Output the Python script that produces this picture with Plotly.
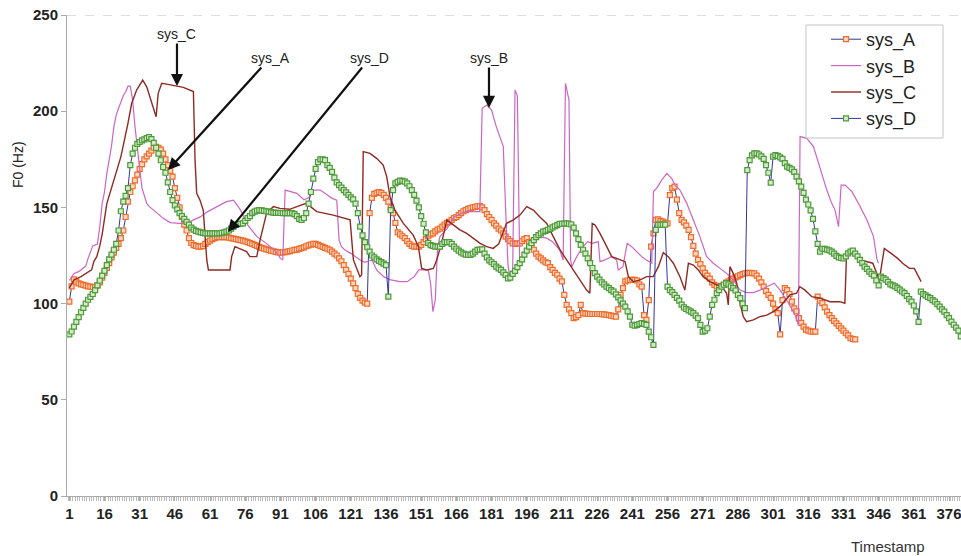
import plotly.graph_objects as go

# ---------------- data ----------------
sys_A = [
    101, 109, 112.6, 111.4, 110.5, 110, 109.7, 109.3, 109, 108.8,
    108.6, 108.5, 109.5, 111, 113.5, 116, 118.5, 121, 124, 126.5,
    129, 131, 134, 138, 145, 153, 158, 161, 164, 167,
    170, 172.5, 175, 176.5, 178, 179.5, 181, 181.5, 181, 180,
    178, 175, 172, 169, 166, 160, 155, 150, 145, 141,
    138, 134, 131.5, 130.4, 130, 129.6, 129.6, 130, 131, 132,
    132.7, 133.5, 134, 134.5, 134.5, 134.5, 134.5, 134.5, 134.3, 134,
    133.8, 133.5, 133.2, 133, 132.7, 132.3, 132, 131.5, 131, 130.5,
    130, 129.5, 129, 128.6, 128.2, 127.8, 127.5, 127.2, 126.9, 126.6,
    126.5, 126.6, 126.8, 127, 127.3, 127.6, 127.9, 128.1, 128.4, 128.8,
    129.2, 129.8, 130.3, 130.7, 131, 131, 130.5, 130, 129.5, 129,
    128.5, 128, 127, 126, 125, 123.5, 122, 120, 117.5, 115.5,
    113, 110.5, 108, 105, 103, 101.5, 100.5, 100, 147, 155,
    157, 157.5, 158, 157.5, 156.5, 155, 153, 150, 147, 142,
    137, 136, 135, 134, 132.5, 131, 130, 129.6, 129.6, 129.6,
    130.5, 132, 133.5, 135, 136, 136.5, 137.5, 138.5, 139, 140,
    141, 142, 142.5, 143.5, 144.5, 145, 146, 147, 148, 148.6,
    149.2, 149.7, 150, 150.3, 150.6, 150.7, 150, 148.6, 146.5, 145,
    143.5, 141.7, 140.5, 139, 138, 136.5, 134.8, 133.5, 132.5, 131.3,
    131, 131.3, 131.3, 132.5, 133.5, 134, 132, 130, 128, 126,
    124.4, 123.5, 122.5, 121.5, 121, 119, 117.5, 116, 115, 113,
    111.5, 104.5, 99.3, 97, 95, 92.4, 93, 94, 99.3, 95,
    94.8, 94.7, 94.6, 94.6, 94.6, 94.6, 94.6, 94.5, 94.4, 94.2,
    94, 93.8, 93.5, 93.2, 97, 104.5, 108, 111.5, 112, 112.3,
    112.3, 112.3, 112, 110, 108.8, 94, 91.5, 101.8, 129.6, 136.5,
    143.5, 143.8, 143, 142.6, 142, 141.7, 156.4, 160, 160.8, 154,
    147, 143.5, 142.2, 140.5, 138.3, 134.5, 130, 126, 122.7, 120.5,
    118.3, 116, 114.5, 113, 111, 109.7, 109, 108.8, 109.2, 109.8,
    110.9, 111.6, 112.3, 113, 113.6, 114.2, 114.8, 115.3, 115.7, 116,
    116, 115.8, 115.7, 114.5, 113, 111, 108.8, 106.5, 104.5, 103,
    100, 97, 95, 84, 101.8, 108, 107, 105, 101, 97.5,
    96, 92.4, 90, 88, 86.5, 86, 85.5, 85.4, 85.4, 103.6,
    101.5, 100.2, 98, 95.8, 94, 92.4, 91, 89.7, 88.4, 87.1,
    86, 84.6, 83.5, 82, 81.6, 81.4,
]

sys_D = [
    84, 85.5, 88, 90.5, 93, 95.5, 97.8, 100, 102, 103.5,
    105, 107, 109.5, 112, 114.5, 117, 120, 123, 125.5, 128,
    131, 138, 148, 153, 156, 160, 172, 178, 181, 183,
    184, 184.8, 185.4, 186, 186.5, 185.5, 183.5, 181, 178, 174.5,
    171, 168, 163, 158, 153.8, 151, 149, 147, 145.5, 144,
    142.5, 141, 139.5, 138.5, 137.8, 137.4, 137, 136.8, 136.5, 136.5,
    136.5, 136.5, 136.5, 136.5, 136.5, 136.8, 137, 137.4, 138, 139,
    140, 140.9, 141.3, 141.5, 141.7, 143, 144.5, 145.5, 147, 147.8,
    148.3, 148.6, 148.5, 148.2, 148, 147.8, 147.5, 147.3, 147.2, 147.2,
    147.1, 147, 147, 147, 147, 147, 146.5, 145.5, 144, 143.5,
    144.5, 147, 152, 158, 165, 170, 173.5, 175, 175, 174.6,
    172, 170.5, 168.5, 165.5, 163, 161.6, 160.3, 159, 157.8, 156.5,
    155.2, 154.2, 152, 147, 140, 135.5, 132, 129.3, 127, 125,
    124, 123, 122.2, 121.6, 120.8, 120, 103.6, 148.6, 159, 162.5,
    163.3, 163.9, 163.8, 163.4, 162.5, 161, 159, 156.5, 153.5, 150,
    145.5, 141.5, 137, 131.5, 130.4, 130, 129.6, 129.6, 129.6, 131,
    132, 132, 132, 131, 129.6, 128.5, 127.5, 126.6, 126, 125.5,
    125.3, 125.3, 126, 127, 127.9, 128.1, 128.2, 126, 124, 122.5,
    121.5, 120.5, 119.2, 118.3, 117.5, 116.2, 114.9, 113.1, 113.5, 115.5,
    117, 119, 121, 123, 125.5, 127.5, 129.6, 131.5, 133, 134.5,
    135.6, 136.5, 137.4, 137.8, 138.3, 138.8, 139.6, 140.2, 140.8, 141.4,
    141.5, 141.6, 141.7, 141.5, 141.1, 139.5, 136.5, 133.5, 130.5, 128,
    126, 123.5, 121, 118.5, 115.8, 114, 112.5, 111, 110, 108.8,
    108, 107, 106.2, 104.8, 103.2, 101.7, 100, 98.4, 96, 93.2,
    89, 88.5, 88.9, 89.4, 89.8, 89.5, 88.9, 85.4, 82.5, 78.5,
    138.3, 140.9, 141, 141, 141, 108.8, 107, 106, 104.5, 103,
    101.5, 99.5, 98, 97.2, 96.5, 95.8, 95, 93.8, 92.4, 88.9,
    85.4, 86, 87.2, 93.2, 99.3, 102, 105.4, 107, 108.8, 109.8,
    110.6, 110, 109, 108, 106.8, 104.5, 102.8, 100, 97.6, 169.4,
    174.6, 177, 178.1, 178.1, 177.5, 176.5, 175.2, 172, 168, 162.9,
    176.4, 177.2, 176.8, 176, 175.2, 173, 171.2, 170.5, 169.8, 168.5,
    166, 163.5, 160.8, 157.5, 154, 151.5, 148.5, 144, 137.5, 131,
    127, 128.5, 128.4, 128.1, 127.7, 127, 126, 124.8, 124, 123.7,
    123.5, 124.5, 126.1, 127, 127.5, 126, 124.5, 122.7, 121, 119.2,
    118, 116.6, 115.5, 114.5, 112, 109.5, 114, 113.2, 112.5, 111.3,
    110, 109.5, 109, 108.2, 107.3, 106.3, 105.4, 104, 102.3, 101,
    99, 96, 90.5, 106.2, 105, 104.3, 103.5, 102.8, 101.8, 101,
    99.7, 98.4, 97, 95.8, 94, 92.4, 90.6, 89, 87.5, 86, 83,
]

# sys_B and sys_C: vertices (timestamp, F0)
sys_B_t = [1, 3, 5, 6, 8, 9, 10, 11, 13, 14, 15, 16, 17, 18, 19, 20, 21, 22, 23, 24,
           25, 26, 27, 28, 29, 30, 31, 32, 33, 34, 35, 37, 39, 41, 44, 48, 51, 54, 57, 60,
           64, 68, 71, 74, 77, 81, 85, 89, 91, 92, 93, 95, 98, 101, 103, 105, 108, 111, 113, 115,
           116, 117, 118.5, 121, 123, 125, 127, 130, 132, 135, 138, 142, 145, 148, 150, 154, 155, 156, 157, 158,
           159, 162, 165, 168, 170, 176, 177, 179, 181, 183, 185, 186, 187, 188, 189, 190, 191, 192, 193, 195,
           198, 201, 204.5, 207, 210, 211.5, 212.5, 214, 214.7, 215.2, 217.3, 220, 222, 224, 226.5, 227.2, 229.3, 232, 234.3, 235,
           237, 238.8, 240.7, 243, 245, 247, 249.3, 250, 251.4, 253.5, 255.7, 257.8, 259.2, 261.3, 264.2, 267, 269.8, 272.7, 275.5, 278.4,
           281.2, 284, 286.9, 289.7, 292.6, 295.4, 298.3, 301.5, 304, 307.6, 310.4, 311.8, 312.5, 315.4, 318.2, 321, 323.9, 326, 327.4, 328.9,
           330, 331.7, 334.6, 337.4, 341, 343.8, 345.2, 345.9]
sys_B_v = [112, 115.7, 116.6, 117.5, 119.5, 123.5, 127, 130, 131, 140, 152, 158, 167.7, 174, 182, 192, 198, 201.5, 205, 208,
           210, 213, 213, 205.8, 192, 180, 170, 160, 155.5, 152.1, 150.5, 148.6, 146.5, 144.3, 142.1, 141.7, 141.7, 143.5, 145.2, 147.8,
           150.4, 153, 153.8, 148.6, 140.9, 134.8, 131.3, 127, 123.5, 122.7, 159, 158.2, 157.3, 154, 155, 159, 159, 156.4, 154.7, 153.8,
           133, 129.6, 127.9, 126.1, 124.4, 122.7, 121.5, 122.7, 117.5, 114, 112.3, 111.4, 111.4, 114, 117.5, 117.5, 110.5, 95.8, 101.9, 129.6,
           134.8, 139, 145.2, 147, 147.8, 147.8, 201.5, 203.2, 200.6, 192, 185, 181.6, 148.6, 120, 112, 118, 211, 208, 120, 125,
           130, 134.8, 134, 132.2, 127.9, 122.7, 214.5, 205.8, 122.7, 119.2, 124.4, 129.6, 132.2, 131.3, 132.2, 121.8, 122.7, 124.4, 122.7, 117.5,
           119.2, 131.3, 129.6, 127, 124.4, 122.7, 121, 158.2, 160, 164.2, 167.7, 165, 161.6, 159, 152.1, 143.5, 134.8, 124.4, 121, 118.3,
           115.7, 112.3, 107, 105.7, 105.7, 107, 108.8, 110.6, 107, 100.2, 94, 88.9, 186.8, 185.9, 181.6, 170.3, 159, 152.1, 148.6, 140,
           161.6, 161.6, 158.2, 152.1, 143.5, 134.8, 123.5, 121]

sys_C_t = [1, 3, 6, 8, 10.5, 11.5, 12.7, 14, 15, 17, 20, 23, 26, 27.6, 29.7, 32.3, 34, 36.1, 38, 38.9,
           40.4, 42.5, 46, 49.6, 53.9, 54.6, 55.3, 56.7, 58.1, 59.6, 60.3, 69.5, 70.2, 71.6, 76.6, 78, 80.9, 82.3, 85.1, 88,
           90.8, 95, 98, 102, 106.5, 113.5, 120.7, 122.1, 124.9, 125.6, 126.3, 129.2, 132, 134.8, 136.3, 137.7, 139.8, 143.4, 147.6, 149.8,
           151.2, 153.3, 156.2, 157.6, 159.7, 161.9, 164.7, 167.5, 170.4, 173.2, 176.1, 178.9, 181.7, 184, 187.4, 190.3, 193.1, 196, 198.8, 201.6,
           204.5, 207.3, 210.2, 213, 215.8, 218.7, 221.5, 222.9, 223.9, 225.1, 227.2, 230.1, 232.2, 234.3, 236.4, 237.9, 239.3, 241.4, 244.3, 247.1,
           249.9, 252.1, 254.2, 256.3, 258.5, 261.3, 263.4, 264.9, 267, 269.1, 271.2, 274.1, 276.9, 279.1, 281.2, 281.9, 282.6, 284, 285.5, 286.9,
           288.3, 289.7, 292.6, 295.4, 298.3, 301.1, 303.9, 306.5, 308.2, 311, 312.4, 314.6, 317.5, 321, 325.3, 329.5, 331.6, 332.3, 335.2, 338.1,
           340.6, 343.5, 346.3, 348.4, 351.3, 354.1, 356.2, 359.1, 361.2, 364.1]
sys_C_v = [108, 112.3, 114, 115.7, 117.5, 122, 124.4, 130, 136, 152, 164.2, 176.4, 193.7, 204.1, 211, 216.2, 212.7, 204.1, 197.1, 209.3,
           214.5, 214.1, 213.1, 212.4, 210.2, 174.6, 157.3, 153.8, 148.6, 122.7, 117.5, 117.5, 124.4, 129.6, 127, 124.4, 124.4, 133, 147, 150.4,
           149.5, 149, 150.4, 152.1, 147.8, 146, 143.5, 122.7, 114, 114.9, 179, 178.1, 175.5, 172, 166, 155.6, 148.6, 141.7, 135.6, 129.6,
           118.3, 117.5, 118.3, 122.7, 131.3, 143.5, 140.9, 138.3, 136.5, 134, 131.3, 129.6, 128.7, 131, 141.7, 143.5, 146, 150.4, 148.6, 145,
           141.7, 134.8, 127.9, 122.7, 117.5, 112.3, 107, 105.4, 141.7, 140.9, 136.5, 129.6, 124.4, 123.5, 122.7, 121.8, 114, 111.4, 112.3, 114,
           114, 119.2, 126.5, 124.4, 121, 114, 107, 121, 120, 117.5, 114, 111.4, 109.7, 108.8, 105.4, 99.3, 119.2, 115.7, 110.6, 100.2,
           93.2, 90.6, 91.5, 93.2, 94, 95.8, 98.4, 102, 104.5, 105.4, 108.8, 107, 103.6, 102.8, 101, 101, 100.2, 125.3, 127.9, 122.7,
           121.8, 121, 112.3, 128.7, 126.1, 123.5, 121, 118.3, 118.3, 111.4]

tick_labels = [str(v) for v in range(1, 377, 15)]
y_ticks = [0, 50, 100, 150, 200, 250]

# ---------------- figure ----------------
FONT = "Liberation Sans, Arial, sans-serif"
BLUE = "#35369A"

fig = go.Figure()
fig.add_trace(go.Scatter(
    x=list(range(1, len(sys_A) + 1)), y=sys_A, name="sys_A", mode="lines+markers",
    line=dict(color=BLUE, width=1),
    marker=dict(symbol="square", size=5, color="#FCD9C2", line=dict(color="#F26B2A", width=1.2)),
))
fig.add_trace(go.Scatter(
    x=sys_B_t, y=sys_B_v, name="sys_B", mode="lines",
    line=dict(color="#CC66C4", width=1.2),
))
fig.add_trace(go.Scatter(
    x=sys_C_t, y=sys_C_v, name="sys_C", mode="lines",
    line=dict(color="#8E2A22", width=1.4),
))
fig.add_trace(go.Scatter(
    x=list(range(1, len(sys_D) + 1)), y=sys_D, name="sys_D", mode="lines+markers",
    line=dict(color=BLUE, width=1),
    marker=dict(symbol="square", size=5, color="#D3EBC8", line=dict(color="#4E9A3A", width=1.2)),
))

# annotations (arrows)
arrows = [
    ("sys_C", 46.9, 213.1, 0, -52),
    ("sys_A", 43.1, 169.4, 102, -112),
    ("sys_D", 68.6, 137.2, 142, -174),
    ("sys_B", 179.9, 201.7, 0, -50),
]
for txt, ax_t, ay_v, dx, dy in arrows:
    fig.add_annotation(x=ax_t, y=ay_v, xref="x", yref="y", text=txt, showarrow=True,
                       ax=dx, ay=dy, arrowhead=2, arrowsize=1.1, arrowwidth=2.2,
                       arrowcolor="#111111", font=dict(family=FONT, size=14, color="#222222"))

fig.add_annotation(x=0.918, y=-0.104, xref="paper", yref="paper", text="Timestamp",
                   xanchor="center", yanchor="middle",
                   showarrow=False, font=dict(family=FONT, size=15, color="#333333"))
fig.add_annotation(x=-0.0548, y=0.688, xref="paper", yref="paper", text="F0 (Hz)",
                   textangle=-90, xanchor="center", yanchor="middle",
                   showarrow=False, font=dict(family=FONT, size=14, color="#222222"))

fig.add_shape(type="line", xref="paper", yref="y", x0=0, x1=1, y0=250, y1=250,
              line=dict(color="#BBBBBB", width=1, dash="dash"))
# legend frame
fig.add_shape(type="rect", xref="paper", yref="paper", x0=0.8266, x1=0.9799, y0=0.7443, y1=0.9792,
              line=dict(color="#C4C4C4", width=1), fillcolor="white", layer="above")

fig.update_layout(
    width=961, height=556,
    margin=dict(l=67, r=0, t=15, b=60, autoexpand=False),
    paper_bgcolor="white", plot_bgcolor="white",
    font=dict(family=FONT, color="#222222"),
    showlegend=True,
    legend=dict(x=0.849, y=0.9875, xanchor="left", yanchor="top",
                borderwidth=0, bgcolor="rgba(0,0,0,0)",
                font=dict(family=FONT, size=18, color="#222222"),
                itemwidth=30, tracegroupgap=0),
)
fig.update_xaxes(
    range=[0.02, 381.1], tickmode="array", tickvals=list(range(1, 377, 15)), ticktext=tick_labels,
    showgrid=False, zeroline=False, showline=True, linecolor="#AAAAAA", linewidth=1,
    ticks="outside", ticklen=4, tickcolor="#AAAAAA", automargin=False, ticklabeloverflow="allow",
    tickfont=dict(family=FONT, size=15, color="#222222", weight="bold"),
    minor=dict(tickmode="linear", tick0=0.5, dtick=1, ticks="outside", ticklen=4, tickcolor="#BBBBBB"),
)
fig.update_yaxes(
    range=[0, 250], tickmode="array", tickvals=y_ticks, automargin=False,
    showgrid=False, zeroline=False, showline=True, linecolor="#AAAAAA", linewidth=1,
    ticks="outside", ticklen=5, tickcolor="#AAAAAA",
    tickfont=dict(family=FONT, size=15, color="#222222", weight="bold"),
)

fig.write_html("out.html", config={"displayModeBar": False},
               post_script="document.body.style.margin='0';document.body.style.overflow='hidden';")
